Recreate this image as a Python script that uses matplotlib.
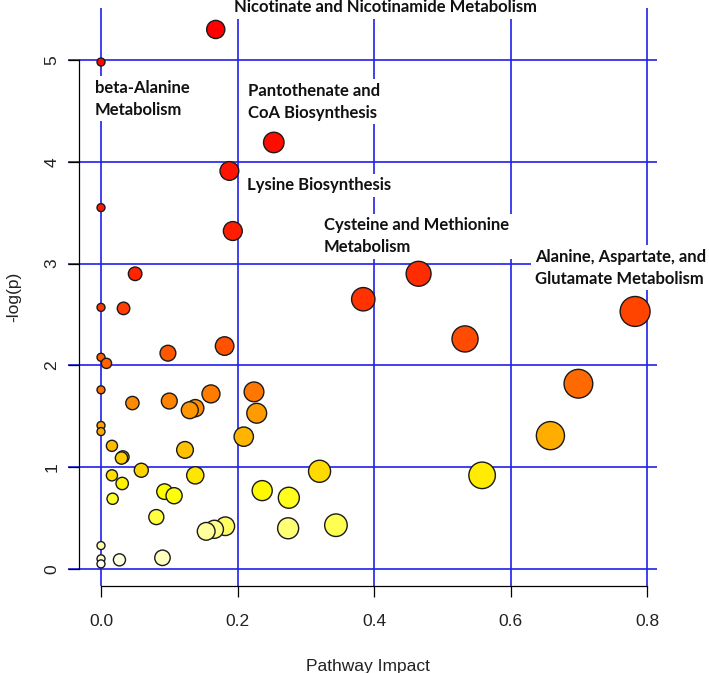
import numpy as np
import matplotlib
matplotlib.use("Agg")
import matplotlib.pyplot as plt
from matplotlib.colors import hsv_to_rgb

# pathway impact (x) and -log(p) (y)
impact = [0.168, 0.000, 0.253, 0.188, 0.000, 0.193, 0.050, 0.000, 0.033, 0.098,
          0.181, 0.000, 0.008, 0.000, 0.046, 0.100, 0.161, 0.224, 0.130, 0.138,
          0.228, 0.000, 0.000, 0.209, 0.016, 0.123, 0.030, 0.032, 0.059, 0.016,
          0.031, 0.017, 0.138, 0.093, 0.107, 0.081, 0.154, 0.166, 0.182, 0.000,
          0.000, 0.000, 0.027, 0.090, 0.320, 0.236, 0.275, 0.274, 0.344, 0.384,
          0.465, 0.533, 0.782, 0.699, 0.658, 0.558]
logp = [5.30, 4.98, 4.19, 3.91, 3.55, 3.32, 2.90, 2.57, 2.56, 2.12,
        2.19, 2.08, 2.02, 1.76, 1.63, 1.65, 1.72, 1.74, 1.56, 1.58,
        1.53, 1.41, 1.35, 1.30, 1.21, 1.17, 1.09, 1.10, 0.97, 0.92,
        0.84, 0.69, 0.92, 0.76, 0.72, 0.51, 0.37, 0.39, 0.42, 0.23,
        0.10, 0.05, 0.09, 0.11, 0.96, 0.77, 0.70, 0.40, 0.43, 2.65,
        2.90, 2.26, 2.53, 1.82, 1.31, 0.92]

# labelled pathways: text and (x, y) anchor of the text block
labels = ["Nicotinate and Nicotinamide Metabolism",
          "beta-Alanine\nMetabolism",
          "Pantothenate and\nCoA Biosynthesis",
          "Lysine Biosynthesis",
          "Cysteine and Methionine\nMetabolism",
          "Alanine, Aspartate, and\nGlutamate Metabolism"]
label_x = [0.195, -0.009, 0.215, 0.214, 0.3265, 0.635]
label_y = [5.52, 4.62, 4.59, 3.77, 3.27, 2.96]

xticks = [0.0, 0.2, 0.4, 0.6, 0.8]
yticks = [0, 1, 2, 3, 4, 5]


def heat_colors(n):
    # same as R's heat.colors(n)
    j = n // 4
    i = n - j
    cols = [hsv_to_rgb((h, 1, 1)) for h in np.linspace(0, 1 / 6, i)]
    if j > 0:
        for s in np.linspace(1 - 1 / (2 * j), 1 / (2 * j), j):
            cols.append(hsv_to_rgb((1 / 6, s, 1)))
    return cols


x = np.array(impact)
y = np.array(logp)
order = np.argsort(-y, kind="stable")
x, y = x[order], y[order]
cols = heat_colors(len(y))
radius_px = 4 + 12.4 * np.sqrt(x)
sizes = (2 * radius_px * 0.72) ** 2

W, H = 709, 673
fig = plt.figure(figsize=(W / 100, H / 100), dpi=100)
L, R, T, B = 79, 657, 8, 586
ax = fig.add_axes([L / W, 1 - B / H, (R - L) / W, (B - T) / H])

x0px, xscale = 101, 683.0
y0px, yscale = 569, 101.8
xlim = ((L - x0px) / xscale, (R - x0px) / xscale)
ylim = ((y0px - B) / yscale, (y0px - T) / yscale)
ax.set_xlim(xlim)
ax.set_ylim(ylim)

grid_c = "#2020ee"
ax.hlines(yticks, (68 - x0px) / xscale, xlim[1], colors=grid_c, lw=1.2,
          zorder=1, clip_on=False)
ax.vlines(xticks, ylim[0], ylim[1], colors=grid_c, lw=1.2, zorder=1)

ax.scatter(x, y, s=sizes, c=cols, edgecolors="#1a1a1a", linewidths=1.0,
           zorder=3, clip_on=False)

for txt, tx, ty in zip(labels, label_x, label_y):
    ax.text(tx, ty, txt, ha="left", va="center", fontsize=12,
            fontweight="bold", family="Lato", linespacing=1.45, zorder=4,
            color="#111111",
            bbox=dict(facecolor="white", edgecolor="none", pad=2.5))

for s in ["top", "right"]:
    ax.spines[s].set_visible(False)
ax.spines["left"].set_bounds(0, 5)
ax.spines["bottom"].set_bounds(0, 0.8)
for s in ["left", "bottom"]:
    ax.spines[s].set_linewidth(0.9)

ax.set_xticks(xticks)
ax.set_xticklabels(["0.0", "0.2", "0.4", "0.6", "0.8"])
ax.set_yticks(yticks)
ax.set_yticklabels([str(v) for v in yticks], rotation=90, va="center")
ax.tick_params(direction="out", length=8, width=0.9, labelsize=12.5)
ax.tick_params(axis="x", pad=12)
ax.tick_params(axis="y", pad=6)
for lab in ax.get_xticklabels() + ax.get_yticklabels():
    lab.set_family("Liberation Sans")
    lab.set_color("#222222")

ax.set_xlabel("Pathway Impact", family="Liberation Sans", fontsize=12.5,
              color="#222222", labelpad=22)
ax.set_ylabel("-log(p)", family="Liberation Sans", fontsize=12.5,
              color="#222222", labelpad=17)

fig.savefig("out.png", dpi=100)
